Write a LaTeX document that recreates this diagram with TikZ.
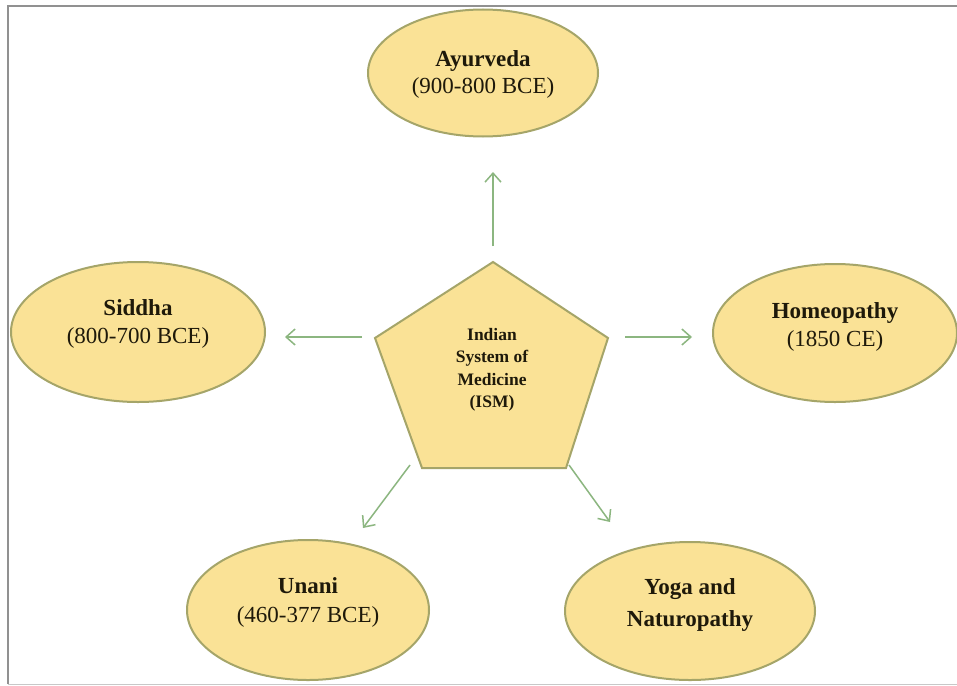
\documentclass[tikz,border=0pt]{standalone}
\usepackage{fontspec}
\setmainfont{Liberation Serif}
\usetikzlibrary{shapes.geometric,arrows.meta}
\definecolor{fillc}{RGB}{250,226,150}
\definecolor{edgec}{RGB}{165,165,105}
\definecolor{arrc}{RGB}{140,182,128}
\definecolor{txtc}{RGB}{30,25,10}
\definecolor{framec}{RGB}{145,145,145}
\tikzset{
  bubble/.style={ellipse, draw=edgec, fill=fillc, line width=2pt, inner sep=0pt},
  btext/.style={align=center, text=txtc},
  arr/.style={draw=arrc, line width=1.5pt, -{Straight Barb[length=9pt,width=16pt,line width=1.5pt]}},
  framel/.style={draw=framec, line width=2pt},
}
\newcommand{\bfs}[1]{\fontsize{23}{#1}\selectfont}
\begin{document}
\begin{tikzpicture}[x=1pt,y=-1pt]
\useasboundingbox (0,0) rectangle (957,685);
\fill[white] (0,0) rectangle (957,685);
% frame
\draw[framel] (8,684) -- (8,6) -- (957,6);
\draw[draw=framec!50, line width=1pt] (8,684) -- (957,684);
% pentagon
\coordinate (pt) at (493,262);
\coordinate (pr) at (608,338);
\coordinate (pbr) at (566,468);
\coordinate (pbl) at (422,468);
\coordinate (pl) at (375,338);
\draw[draw=edgec, fill=fillc, line width=2pt, line join=miter] (pt) -- (pr) -- (pbr) -- (pbl) -- (pl) -- cycle;
\node[align=center, text=txtc, font=\bfseries\fontsize{17.5}{22.5}\selectfont] (ism) at (492,370)
  {Indian\\System of\\Medicine\\(ISM)};
% ellipses
\node[bubble, minimum width=230pt, minimum height=127pt,
  label={[btext, yshift=-1pt, font=\bfs{27}]center:{\textbf{Ayurveda}\\(900-800 BCE)}}] (ayur) at (483,73) {};
\node[bubble, minimum width=254pt, minimum height=140pt,
  label={[btext, yshift=8pt, font=\bfs{28}]center:{\textbf{Siddha}\\(800-700 BCE)}}] (siddha) at (138,332) {};
\node[bubble, minimum width=244pt, minimum height=138pt,
  label={[btext, yshift=6pt, font=\bfs{28}]center:{\textbf{Homeopathy}\\(1850 CE)}}] (homeo) at (835,333) {};
\node[bubble, minimum width=242pt, minimum height=140pt,
  label={[btext, yshift=8pt, font=\bfs{29}]center:{\textbf{Unani}\\(460-377 BCE)}}] (unani) at (308,610) {};
\node[bubble, minimum width=250pt, minimum height=138pt,
  label={[btext, yshift=6pt, font=\bfs{32}]center:{\textbf{Yoga and}\\\textbf{Naturopathy}}}] (yoga) at (690,611) {};
% arrow end points
\coordinate (a1s) at (493,246); \coordinate (a1e) at (493,172);
\coordinate (a2s) at (362,337); \coordinate (a2e) at (285,337);
\coordinate (a3s) at (625,337); \coordinate (a3e) at (692,337);
\coordinate (a4s) at (410,465); \coordinate (a4e) at (363,528);
\coordinate (a5s) at (569,465); \coordinate (a5e) at (610,522);
\draw[arr] (a1s) -- (a1e);
\draw[arr] (a2s) -- (a2e);
\draw[arr] (a3s) -- (a3e);
\draw[arr] (a4s) -- (a4e);
\draw[arr] (a5s) -- (a5e);
\end{tikzpicture}
\end{document}
